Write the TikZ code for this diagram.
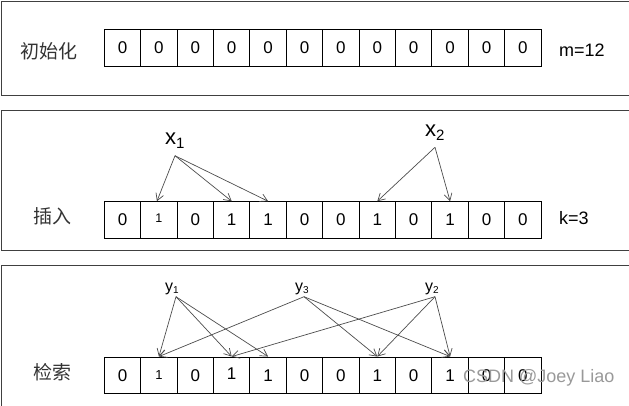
\documentclass[tikz,border=0pt]{standalone}
\usepackage{fontspec}
\setmainfont{Liberation Sans}
\newfontfamily\cjk{Noto Sans CJK SC}
\usetikzlibrary{arrows.meta}
\newcommand\smallonehi{\raisebox{3pt}{\fontsize{12.5}{12.5}\selectfont 1}}
\newcommand\smallonelo{\raisebox{-1pt}{\fontsize{13}{13}\selectfont 1}}
\newcommand\raisedone{\raisebox{3pt}{1}}
\begin{document}
\begin{tikzpicture}[x=1pt,y=-1pt,
  cell/.style={draw=black, line width=0.9pt, minimum width=36.4pt, minimum height=36.6pt, inner sep=0pt, font=\fontsize{17}{17}\selectfont},
  panel/.style={draw=black!75, line width=1pt},
  lbl/.style={font=\cjk\fontsize{19}{20}\selectfont, text=black!80, inner sep=0pt},
  param/.style={font=\fontsize{18}{20}\selectfont, anchor=west, inner sep=0pt},
  xlab/.style={font=\fontsize{22}{22}\selectfont, anchor=base west, inner sep=0pt},
  ylab/.style={font=\fontsize{16}{16}\selectfont, anchor=base west, inner sep=0pt},
  hash/.style={draw=black!70, line width=0.7pt, -{Straight Barb[length=7pt,width=8pt]}},
  wmark/.style={font=\fontsize{18}{18}\selectfont, text=black!40, anchor=west, inner sep=0pt},
]
\useasboundingbox (0,0) rectangle (629,405);
\clip (0,0) rectangle (629,405);
% panels
\draw[panel] (1.5,1) rectangle (660,95.7);
\draw[panel] (1.5,110.5) rectangle (660,250.7);
\draw[panel] (1.5,265.7) rectangle (660,440);
% panel 1
\node[lbl] (init) at (49,51.7) {初始化};
\foreach \v [count=\i from 0] in {0,0,0,0,0,0,0,0,0,0,0,0}
  \node[cell] (a\i) at (122.5+36.4*\i, 47.8) {\v};
\node[param] (m) at (559,50) {m=12};
% panel 2
\node[lbl] (ins) at (52,216.7) {插入};
\foreach \v [count=\i from 0] in {0,\smallonehi,0,1,1,0,0,1,0,1,0,0}
  \node[cell] (b\i) at (122.5+36.4*\i, 220) {\v};
\node[param] (k) at (559,218) {k=3};
\node[xlab] (x1) at (165,144.3) {x\raisebox{-4pt}{\fontsize{15}{15}\selectfont 1}};
\node[xlab] (x2) at (425,136.7) {x\raisebox{-4pt}{\fontsize{15}{15}\selectfont 2}};
\coordinate (x1o) at (175,155.7);
\coordinate (x2o) at (435,147.3);
\draw[hash] (x1o) -- ([xshift=-2pt]b1.north);
\draw[hash] (x1o) -- (b3.north);
\draw[hash] (x1o) -- (b4.north);
\draw[hash] (x2o) -- (b7.north);
\draw[hash] (x2o) -- (b9.north);
% panel 3
\node[lbl] (query) at (52,371.7) {检索};
\foreach \v [count=\i from 0] in {0,\smallonelo,0,\raisedone,1,0,0,1,0,1,0,0}
  \node[cell] (c\i) at (122.5+36.4*\i, 375.3) {\v};
\node[ylab] (y1) at (165,291.6) {y\raisebox{-2pt}{\fontsize{10}{10}\selectfont 1}};
\node[ylab] (y3) at (295,291.6) {y\raisebox{-2pt}{\fontsize{10}{10}\selectfont 3}};
\node[ylab] (y2) at (425,291.6) {y\raisebox{-2pt}{\fontsize{10}{10}\selectfont 2}};
\coordinate (y1o) at (176,296.7);
\coordinate (y3o) at (304,296.7);
\coordinate (y2o) at (435,296.7);
\draw[hash] (y1o) -- (c1.north);
\draw[hash] (y1o) -- (c3.north);
\draw[hash] (y1o) -- (c4.north);
\draw[hash] (y3o) -- (c1.north);
\draw[hash] (y3o) -- (c7.north);
\draw[hash] (y3o) -- (c9.north);
\draw[hash] (y2o) -- (c3.north);
\draw[hash] (y2o) -- (c7.north);
\draw[hash] (y2o) -- (c9.north);
\node[wmark] (wm) at (463,378) {CSDN @Joey Liao};
\end{tikzpicture}
\end{document}
